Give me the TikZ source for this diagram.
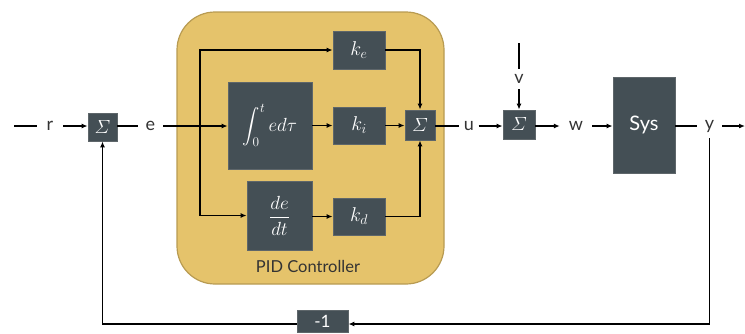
\RequirePackage{fix-cm}
\documentclass[tikz,border=0pt]{standalone}
\usepackage{amsmath}
\usepackage{fontspec}
\setmainfont{Lato}
\usetikzlibrary{arrows.meta}
\definecolor{boxfill}{HTML}{444F55}
\definecolor{boxline}{HTML}{5E666A}
\definecolor{pidfill}{HTML}{E5C36B}
\definecolor{pidline}{HTML}{B89B52}
\definecolor{labtext}{HTML}{333333}
\tikzset{
  blk/.style={draw=boxline, line width=0.8pt, fill=boxfill, text=white, inner sep=0pt, font=\fontsize{20}{22}\selectfont},
  sig/.style={blk, font=\fontsize{19}{21}\selectfont},
  lab/.style={inner sep=0pt, text=labtext, font=\fontsize{18}{20}\selectfont},
  wire/.style={line width=1.4pt, black},
  arr/.style={wire, -{Latex[length=6pt,width=5pt]}},
  pidbox/.style={draw=pidline, fill=pidfill, line width=1.2pt, rounded corners=38pt, inner sep=0pt}
}
\begin{document}
\begin{tikzpicture}[x=1pt,y=-1pt]
\useasboundingbox (0,0) rectangle (745,333);
% PID container
\node[pidbox, minimum width=267pt, minimum height=272pt] (pid) at (310.5,148) {};
\node[lab, font=\fontsize{16.5}{18}\selectfont] (pidlab) at (308,266) {PID Controller};
% blocks
\node[sig, minimum width=29pt, minimum height=28pt] (s1) at (102.5,127) {$\varSigma$};
\node[blk, minimum width=52pt, minimum height=38pt] (ke) at (359,50) {$k_e$};
\node[blk, minimum width=84pt, minimum height=87pt, font=\fontsize{19}{22}\selectfont] (integ) at (270,125.5) {$\displaystyle\int_0^t ed\tau$};
\node[blk, minimum width=52pt, minimum height=37pt] (ki) at (359,125.5) {$k_i$};
\node[sig, minimum width=30pt, minimum height=30pt] (s2) at (420,125) {$\varSigma$};
\node[blk, minimum width=65pt, minimum height=69pt, font=\fontsize{19}{22}\selectfont] (deriv) at (279.5,215.5) {$\displaystyle\frac{de}{dt}$};
\node[blk, minimum width=52pt, minimum height=37pt] (kd) at (359,216.5) {$k_d$};
\node[sig, minimum width=32pt, minimum height=29pt] (s3) at (519,124.5) {$\varSigma$};
\node[blk, minimum width=62pt, minimum height=96pt] (sys) at (644,125) {Sys};
\node[blk, minimum width=51pt, minimum height=22.5pt, font=\fontsize{17}{19}\selectfont] (neg) at (322.5,321.25) {-1};
% labels
\node[lab, minimum width=26pt, minimum height=20pt] (r) at (50,126) {r};
\node[lab, minimum width=25pt, minimum height=20pt] (e) at (150.5,126) {e};
\node[lab, minimum width=19pt, minimum height=20pt] (u) at (469,126) {u};
\node[lab, minimum width=32pt, minimum height=20pt] (w) at (576,126) {w};
\node[lab, minimum width=25pt, minimum height=24pt] (y) at (709.5,126) {y};
\node[lab, minimum width=12pt, minimum height=20pt] (v) at (519,79) {v};
% free ends
\coordinate (start) at (14,126);
\coordinate (vtop) at (519,43);
\coordinate (exit) at (745,126);
\coordinate (br) at (200,126);
% connectors
\draw[wire] (start) -- (r.west);
\draw[arr] (r.east) -- (s1.west |- r.east);
\draw[wire] (s1.east |- e.west) -- (e.west);
\draw[arr] (e.east) -- (integ.west |- e.east);
\draw[arr] (br) |- (ke.west);
\draw[arr] (br) |- (deriv.west);
\draw[arr] (integ.east) -- (ki.west);
\draw[arr] (ki.east) -- (s2.west |- ki.east);
\draw[arr] (ke.east) -| (s2.north);
\draw[arr] (deriv.east |- kd.west) -- (kd.west);
\draw[arr] (kd.east) -| (s2.south);
\draw[wire] (s2.east |- u.west) -- (u.west);
\draw[arr] (u.east) -- (s3.west |- u.east);
\draw[wire] (vtop) -- (v.north);
\draw[arr] (v.south) -- (s3.north);
\draw[arr] (s3.east |- w.west) -- (w.west);
\draw[arr] (w.east) -- (sys.west |- w.east);
\draw[wire] (sys.east |- y.west) -- (y.west);
\draw[arr] (y.east) -- (exit);
\draw[arr] (y.south) |- ([yshift=-2.75pt]neg.east);
\draw[arr] ([yshift=-2.75pt]neg.west) -| (s1.south);
\end{tikzpicture}
\end{document}
